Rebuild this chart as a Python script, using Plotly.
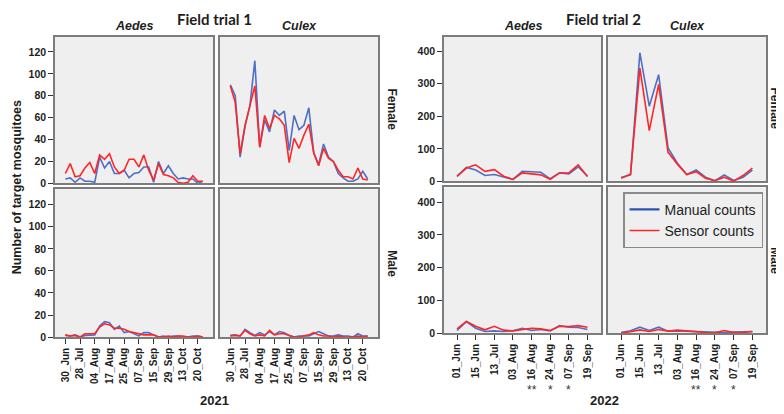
import plotly.graph_objects as go

# ---------------- data ----------------
t1_ticklabels = ["30_Jun", "28_Jul", "04_Aug", "17_Aug", "25_Aug",
                 "07_Sep", "15_Sep", "29_Sep", "13_Oct", "20_Oct"]
t2_ticklabels = ["01_Jun", "15_Jun", "13_Jul", "03_Aug",
                 "16_Aug", "24_Aug", "07_Sep", "19_Sep"]
t2_significance = ["", "", "", "", "**", "*", "*", ""]

# Field trial 1 (2021), 29 sampling points, labels every 3rd
t1_aedes_female_manual = [4, 5, 1, 5, 2, 2, 1, 24, 14, 20, 9, 9, 12, 5, 9,
                          10, 15, 15, 1, 20, 9, 16, 9, 4, 5, 4, 4, 0, 2]
t1_aedes_female_sensor = [9, 18, 6, 7, 14, 19, 9, 26, 22, 27, 15, 9, 12, 22, 22,
                          15, 26, 12, 3, 18, 8, 7, 5, 1, 0, 1, 7, 2, 2]
t1_culex_female_manual = [90, 80, 24, 52, 71, 112, 33, 58, 47, 67, 62, 66, 30, 62, 49,
                          53, 69, 28, 17, 36, 24, 20, 9, 5, 2, 2, 4, 11, 4]
t1_culex_female_sensor = [89, 74, 27, 53, 71, 89, 33, 62, 50, 62, 59, 53, 19, 41, 32,
                          44, 54, 28, 16, 32, 23, 20, 12, 6, 6, 4, 14, 4, 3]
t1_aedes_male_manual = [1.5, 1, 2, 0, 1.5, 2, 2, 10, 14, 13, 7, 10, 4, 5, 3,
                        1, 4, 4, 2, 0, 1, 0, 1, 1, 0, 0, 1, 1, 0]
t1_aedes_male_sensor = [2, 1, 1.5, 0, 3, 3, 3, 9, 12, 11, 8, 8, 7, 5, 4,
                        3, 2, 2, 2, 0, 0, 1, 0, 1, 1, 0, 0, 1, 0]
t1_culex_male_manual = [1.5, 2, 1, 7, 4, 1.5, 4, 2, 5, 2, 5, 4, 1.5, 0, 1,
                        1, 1, 3, 5, 3, 1, 1, 2, 1, 1, 0, 3, 1, 1]
t1_culex_male_sensor = [1, 1.5, 1, 6, 3, 1, 2, 1, 6, 2, 3, 3, 1.5, 0, 0,
                        1, 2, 4, 2, 1, 1, 0, 1, 0, 0, 0, 1, 0, 1]

# Field trial 2 (2022), 15 sampling points, labels every 2nd
t2_aedes_female_manual = [16, 43, 35, 18, 21, 13, 6, 31, 29, 28, 8, 26, 23, 45, 16]
t2_aedes_female_sensor = [15, 41, 51, 31, 36, 16, 6, 26, 23, 20, 6, 26, 26, 51, 15]
t2_culex_female_manual = [12, 20, 395, 231, 328, 103, 56, 21, 35, 13, 2, 20, 3, 13, 35]
t2_culex_female_sensor = [10, 22, 348, 156, 298, 90, 53, 21, 30, 10, 2, 13, 1, 18, 41]
t2_aedes_male_manual = [8, 35, 15, 5, 7, 5, 7, 15, 8, 11, 7, 23, 18, 17, 11]
t2_aedes_male_sensor = [13, 36, 21, 10, 21, 9, 7, 12, 15, 13, 8, 21, 20, 23, 18]
t2_culex_male_manual = [2, 7, 18, 8, 18, 6, 7, 6, 3, 3, 1, 2, 3, 3, 5]
t2_culex_male_sensor = [1, 4, 10, 5, 11, 6, 9, 6, 3, 2, 1, 8, 2, 2, 5]

t1_yticks = [0, 20, 40, 60, 80, 100, 120]
t2_yticks = [0, 100, 200, 300, 400]

series_names = ["Manual counts", "Sensor counts"]

# ---------------- styling ----------------
# The page body keeps its default 8px margin, so the figure fills the rest of
# the window; every position below is given in window pixels.
OFF = 8
W, H = 784 - OFF, 414 - OFF
BLUE = "#4f6ec8"
BLUE_LEG = "#2a56b2"
RED = "#ff2626"
FRAME = "#7c7c7c"
PANEL_BG = "#efefef"
TXT = "#1e1e1e"
BOLD_FAMILY = "Liberation Sans, Arial, sans-serif"


def px_x(v):
    return (v - OFF) / W


def px_y(v):
    return 1 - (v - OFF) / H


panels = [
    dict(box=(55, 213, 37, 186), manual=t1_aedes_female_manual, sensor=t1_aedes_female_sensor,
         trial=1, left=True, bottom=False),
    dict(box=(220, 378, 37, 186), manual=t1_culex_female_manual, sensor=t1_culex_female_sensor,
         trial=1, left=False, bottom=False),
    dict(box=(55, 213, 192, 342), manual=t1_aedes_male_manual, sensor=t1_aedes_male_sensor,
         trial=1, left=True, bottom=True),
    dict(box=(220, 378, 192, 342), manual=t1_culex_male_manual, sensor=t1_culex_male_sensor,
         trial=1, left=False, bottom=True),
    dict(box=(444, 601, 37, 184), manual=t2_aedes_female_manual, sensor=t2_aedes_female_sensor,
         trial=2, left=True, bottom=False),
    dict(box=(608, 766, 37, 184), manual=t2_culex_female_manual, sensor=t2_culex_female_sensor,
         trial=2, left=False, bottom=False),
    dict(box=(444, 601, 190, 338), manual=t2_aedes_male_manual, sensor=t2_aedes_male_sensor,
         trial=2, left=True, bottom=True),
    dict(box=(608, 766, 190, 338), manual=t2_culex_male_manual, sensor=t2_culex_male_sensor,
         trial=2, left=False, bottom=True),
]

fig = go.Figure()
layout = {}

for i, p in enumerate(panels, start=1):
    x0, x1, yt, yb = p["box"]
    n = len(p["manual"])
    xs = list(range(n))
    if p["trial"] == 1:
        step, ticklabels, yr, yticks = 3, t1_ticklabels, [0, 134], t1_yticks
        xr = [-2.1, n - 1 + 2.1]
    else:
        step, ticklabels, yr, yticks = 2, t2_ticklabels, [0, 445], t2_yticks
        xr = [-1.4, n - 1 + 1.45]
    tickvals = list(range(0, n, step))[:len(ticklabels)]
    xa = "x" if i == 1 else f"x{i}"
    ya = "y" if i == 1 else f"y{i}"

    fig.add_trace(go.Scatter(x=xs, y=p["manual"], mode="lines", xaxis=xa, yaxis=ya,
                             line=dict(color=BLUE, width=1.6), showlegend=False,
                             name=series_names[0]))
    fig.add_trace(go.Scatter(x=xs, y=p["sensor"], mode="lines", xaxis=xa, yaxis=ya,
                             line=dict(color=RED, width=1.6), showlegend=False,
                             name=series_names[1]))

    layout["xaxis" if i == 1 else f"xaxis{i}"] = dict(
        domain=[px_x(x0), px_x(x1)], range=xr, anchor=ya,
        showgrid=False, zeroline=False, showline=True, mirror=True,
        linecolor=FRAME, linewidth=1.5, layer="below traces",
        tickmode="array", tickvals=tickvals, ticktext=ticklabels,
        ticks="outside" if p["bottom"] else "", ticklen=5, tickcolor="#333", tickwidth=1,
        showticklabels=p["bottom"], tickangle=-90,
        tickfont=dict(family=BOLD_FAMILY, size=10, color=TXT, weight="bold"),
    )
    layout["yaxis" if i == 1 else f"yaxis{i}"] = dict(
        domain=[px_y(yb), px_y(yt)], range=yr, anchor=xa,
        showgrid=False, zeroline=False, showline=True, mirror=True,
        linecolor=FRAME, linewidth=1.5, layer="below traces",
        tickmode="array", tickvals=yticks,
        ticks="outside" if p["left"] else "", ticklen=5, tickcolor="#333", tickwidth=1,
        showticklabels=p["left"],
        tickfont=dict(family=BOLD_FAMILY, size=10.5, color=TXT, weight="bold"),
    )

# legend entries (shown inside the lower-right panel of trial 2)
fig.add_trace(go.Scatter(x=[None], y=[None], mode="lines", xaxis="x8", yaxis="y8",
                         line=dict(color=BLUE_LEG, width=2.2), name=series_names[0],
                         showlegend=True))
fig.add_trace(go.Scatter(x=[None], y=[None], mode="lines", xaxis="x8", yaxis="y8",
                         line=dict(color=RED, width=1.6), name=series_names[1],
                         showlegend=True))

annotations = []


def txt(text, x, y, size, angle=0, italic=False, bold=True, family=BOLD_FAMILY,
        xanchor="center", yanchor="middle"):
    annotations.append(dict(
        text=f"<i>{text}</i>" if italic else text,
        x=px_x(x), y=px_y(y), xref="paper", yref="paper",
        showarrow=False, textangle=angle, xanchor=xanchor, yanchor=yanchor,
        font=dict(family=family, size=size, color=TXT, weight="bold" if bold else "normal"),
    ))


txt("Field trial 1", 214, OFF, 15, family="Lato, Liberation Sans, sans-serif", yanchor="top")
txt("Field trial 2", 603, OFF, 15, family="Lato, Liberation Sans, sans-serif", yanchor="top")
for cx, name in [(134, "Aedes"), (299, "Culex"), (523, "Aedes"), (687, "Culex")]:
    txt(name, cx, 26, 12.5, italic=True)
txt("Female", 392, 111, 12, angle=90)
txt("Male", 392, 267, 12, angle=90)
txt("Female", 775, 110, 12, angle=90)
txt("Male", 775, 264, 12, angle=90)
txt("Number of target mosquitoes", OFF, 190, 12.5, angle=-90, xanchor="left")
txt("2021", 214, 406, 13)
txt("2022", 604, 406, 13)

# significance markers under trial-2 tick labels
for xa in ["x7", "x8"]:
    for k, s in enumerate(t2_significance):
        if s:
            annotations.append(dict(
                text=s, x=k * 2, y=px_y(396), xref=xa, yref="paper",
                showarrow=False, xanchor="center", yanchor="middle",
                font=dict(family="Liberation Sans, Arial, sans-serif", size=12, color="#333"),
            ))

fig.update_layout(
    width=W, height=H, autosize=False,
    margin=dict(l=0, r=0, t=0, b=0),
    paper_bgcolor="white", plot_bgcolor=PANEL_BG,
    annotations=annotations,
    showlegend=True,
    legend=dict(
        x=px_x(623), y=px_y(195), xanchor="left", yanchor="top",
        bgcolor=PANEL_BG, bordercolor="#8a8a8a", borderwidth=1.5,
        font=dict(family="Liberation Sans, Arial, sans-serif", size=14, color="#222"),
        itemwidth=30, tracegroupgap=0,
    ),
    **layout,
)

fig.write_html("out.html")
